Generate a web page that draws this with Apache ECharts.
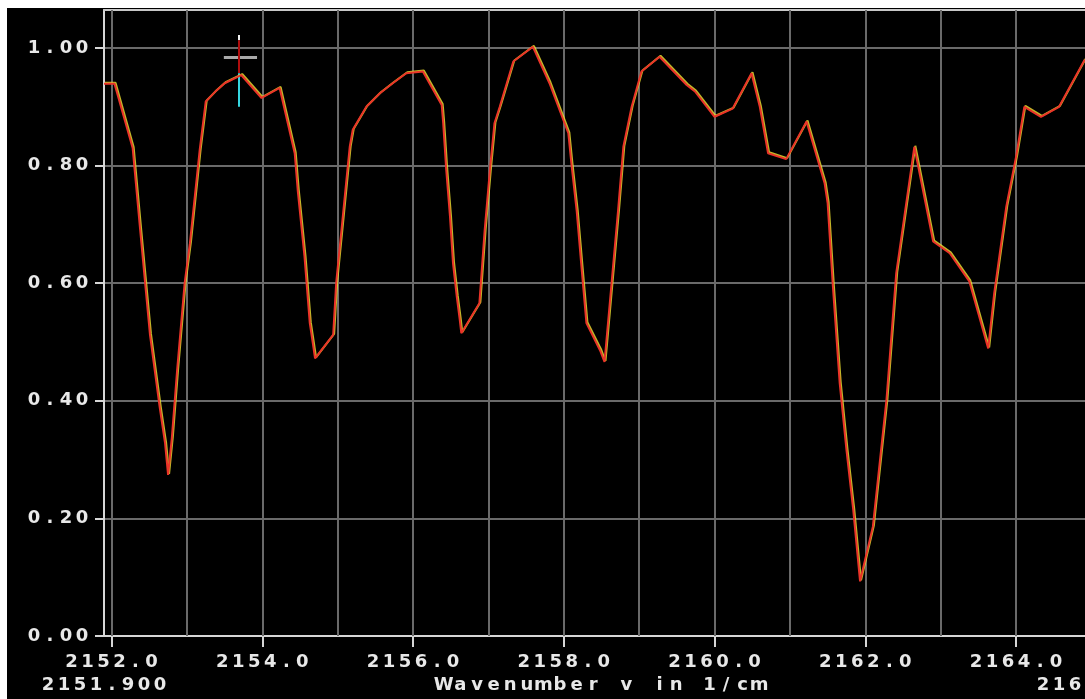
<!DOCTYPE html>
<html>
<head>
<meta charset="utf-8">
<script src="https://cdn.jsdelivr.net/npm/echarts@6/dist/echarts.min.js"></script>
<style>
	html, body { margin: 0; padding: 0; background: #fff; overflow: hidden; }
	#spectrum { position: absolute; left: 7px; top: 8px; width: 1078px; height: 691px; background: #000; }
</style>
</head>
<body>
<div id="spectrum"></div>
<script>
// spectrum, wavenumber in 1/cm
var wavenumber = [
	2151.90, 2152.04, 2152.28, 2152.38, 2152.51, 2152.64, 2152.71, 2152.75, 2152.80, 2152.87,
	2152.97, 2153.04, 2153.17, 2153.25, 2153.37, 2153.50, 2153.72, 2153.99, 2154.23, 2154.43,
	2154.47, 2154.56, 2154.63, 2154.67, 2154.70, 2154.94, 2154.98, 2155.05, 2155.12, 2155.16,
	2155.20, 2155.38, 2155.56, 2155.73, 2155.91, 2156.13, 2156.38, 2156.40, 2156.44, 2156.49,
	2156.53, 2156.58, 2156.62, 2156.64, 2156.88, 2156.95, 2157.02, 2157.08, 2157.15, 2157.33,
	2157.59, 2157.81, 2158.06, 2158.10, 2158.17, 2158.23, 2158.30, 2158.48, 2158.54, 2158.72,
	2158.79, 2158.90, 2159.03, 2159.27, 2159.63, 2159.74, 2160.00, 2160.24, 2160.49, 2160.60,
	2160.71, 2160.95, 2161.22, 2161.46, 2161.50, 2161.57, 2161.66, 2161.75, 2161.84, 2161.93,
	2162.10, 2162.28, 2162.41, 2162.65, 2162.90, 2163.12, 2163.38, 2163.63, 2163.71, 2163.87,
	2164.00, 2164.11, 2164.33, 2164.57, 2164.91
];
var transmittance = [
	0.939, 0.939, 0.830, 0.690, 0.512, 0.388, 0.328, 0.274, 0.337, 0.452,
	0.600, 0.668, 0.827, 0.909, 0.925, 0.940, 0.954, 0.915, 0.932, 0.821,
	0.758, 0.645, 0.532, 0.498, 0.472, 0.512, 0.600, 0.690, 0.781, 0.832,
	0.861, 0.900, 0.923, 0.940, 0.957, 0.960, 0.903, 0.872, 0.793, 0.713,
	0.634, 0.577, 0.537, 0.515, 0.566, 0.690, 0.793, 0.872, 0.900, 0.977,
	1.002, 0.940, 0.855, 0.804, 0.724, 0.634, 0.532, 0.486, 0.466, 0.724,
	0.832, 0.900, 0.960, 0.985, 0.937, 0.926, 0.883, 0.897, 0.957, 0.900,
	0.821, 0.811, 0.875, 0.770, 0.736, 0.594, 0.430, 0.316, 0.214, 0.093,
	0.186, 0.401, 0.617, 0.832, 0.671, 0.651, 0.603, 0.489, 0.583, 0.730,
	0.815, 0.900, 0.883, 0.900, 0.980
];

var xRange = [2151.9, 2165.1];
var yRange = [0, 1.0646];
var xLabelTicks = [2152, 2154, 2156, 2158, 2160, 2162, 2164];
var xGridLines = [2152, 2153, 2154, 2155, 2156, 2157, 2158, 2159, 2160, 2161, 2162, 2163, 2164, 2165];
var yTicks = [0, 0.2, 0.4, 0.6, 0.8, 1.0];
var xName = 'Wavenumber v in 1/cm';

// cursor marker near 2153.7
var cursorX = 2153.69;
var cursorTip = [1.022, 1.013];
var cursorRed = [1.013, 0.957];
var cursorCyan = [0.957, 0.900];
var cursorBar = [2153.49, 2153.93, 0.985];

// one fixed-width cell per character, like the old pixel font
function pixelText(str) {
	return str.split('').map(function(ch) {
		return '{c|' + ch + '}';
	}).join('');
}

function cellStyle(w) {
	return {
		c: {
			width: w,
			align: 'center',
			fontFamily: 'DejaVu Sans',
			fontWeight: 'bold',
			fontSize: 18,
			lineHeight: 18,
			color: '#e8e8e8'
		}
	};
}

function vSeg(x, y0, y1, color, width) {
	return [{
		coord: [x, y0],
		lineStyle: { color: color, width: width, type: 'solid' }
	}, {
		coord: [x, y1]
	}];
}

var SpectrumChart = {
	chart: null,
	init: function() {
		this.chart = echarts.init(document.getElementById('spectrum'));
		this.chart.setOption(this.buildOption());
	},

	buildOption: function() {
		var points = wavenumber.map(function(v, i) {
			return [v, transmittance[i]];
		});

		var axisWhite = { color: '#d6d6d6', width: 2 };

		return {
			animation: false,
			backgroundColor: '#000',
			grid: {
				left: 97,
				top: 2,
				width: 995,
				height: 626,
				containLabel: false,
				outerBoundsMode: 'none'
			},
			xAxis: [{
				type: 'value',
				position: 'bottom',
				min: xRange[0],
				max: xRange[1],
				z: 2,
				axisLine: { onZero: false, lineStyle: axisWhite },
				axisTick: {
					show: true,
					length: 11,
					customValues: xLabelTicks,
					lineStyle: { color: '#d6d6d6', width: 2 }
				},
				axisLabel: {
					customValues: xLabelTicks,
					margin: 17,
					formatter: function(v) {
						return pixelText(v.toFixed(1));
					},
					rich: cellStyle(16)
				},
				splitLine: { show: false },
				name: pixelText(xName),
				nameLocation: 'middle',
				nameGap: 40,
				nameTextStyle: { rich: cellStyle(16.6) }
			}, {
				type: 'value',
				position: 'top',
				min: xRange[0],
				max: xRange[1],
				z: 2,
				axisLine: { onZero: false, lineStyle: { color: '#c8c8c8', width: 2 } },
				axisTick: { show: false },
				axisLabel: { show: false },
				splitLine: { show: false }
			}, {
				type: 'value',
				position: 'bottom',
				min: xRange[0],
				max: xRange[1],
				axisLine: { show: false, onZero: false },
				axisTick: { show: false },
				axisLabel: {
					customValues: xRange,
					margin: 40,
					formatter: function(v) {
						return pixelText(v.toFixed(3));
					},
					rich: cellStyle(16)
				},
				splitLine: { show: false }
			}],
			yAxis: {
				type: 'value',
				min: yRange[0],
				max: yRange[1],
				interval: 0.2,
				z: 2,
				axisLine: { show: true, lineStyle: axisWhite },
				axisTick: {
					show: true,
					length: 9,
					customValues: yTicks,
					lineStyle: { color: '#d6d6d6', width: 2 }
				},
				axisLabel: {
					customValues: yTicks,
					margin: 14,
					formatter: function(v) {
						return pixelText(v.toFixed(2));
					},
					rich: cellStyle(16)
				},
				splitLine: {
					show: true,
					lineStyle: { color: '#6a6a6a', width: 2 }
				}
			},
			series: [{
				name: 'grid',
				type: 'line',
				data: [],
				z: 1,
				silent: true,
				markLine: {
					silent: true,
					symbol: 'none',
					label: { show: false },
					lineStyle: { color: '#6a6a6a', width: 2, type: 'solid' },
					data: xGridLines.map(function(v) {
						return { xAxis: v };
					})
				}
			}, {
				name: 'spectrum',
				type: 'line',
				data: points,
				z: 5,
				showSymbol: false,
				lineStyle: {
					color: '#ea3328',
					width: 2,
					shadowColor: 'rgba(240, 230, 50, 0.8)',
					shadowOffsetX: 1,
					shadowOffsetY: -1,
					shadowBlur: 0
				}
			}, {
				name: 'cursor',
				type: 'line',
				data: [],
				z: 6,
				silent: true,
				markLine: {
					silent: true,
					symbol: 'none',
					label: { show: false },
					data: [
						[{
							coord: [cursorBar[0], cursorBar[2]],
							lineStyle: { color: '#a8a8a8', width: 3, type: 'solid' }
						}, {
							coord: [cursorBar[1], cursorBar[2]]
						}],
						vSeg(cursorX, cursorTip[0], cursorTip[1], '#f0f0f0', 2),
						vSeg(cursorX, cursorRed[0], cursorRed[1], '#b00d0d', 2),
						vSeg(cursorX, cursorCyan[0], cursorCyan[1], '#35d6e0', 2)
					]
				}
			}]
		};
	}
};

SpectrumChart.init();
</script>
</body>
</html>
